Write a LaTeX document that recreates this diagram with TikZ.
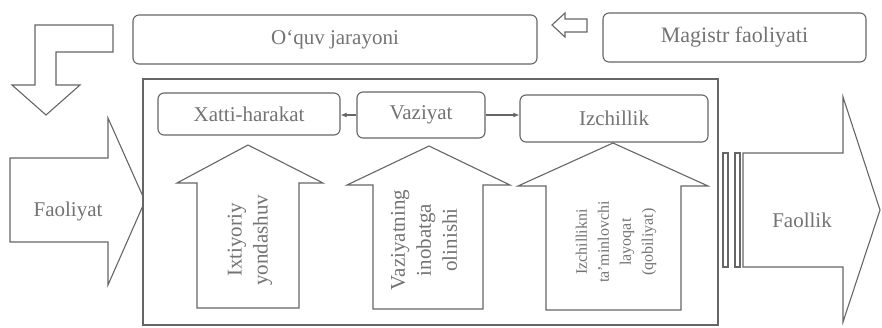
\documentclass[tikz,border=0pt]{standalone}
\usepackage{fontspec}
\setmainfont{Liberation Serif}
\usetikzlibrary{arrows.meta}
\definecolor{lineclr}{HTML}{666666}
\definecolor{txtclr}{HTML}{737373}

\begin{document}
\begin{tikzpicture}[
  x=1pt, y=-1pt,
  font=\fontsize{21}{26}\selectfont,
  box/.style={draw=lineclr, line width=1.1pt, rounded corners=6pt, text=txtclr, inner sep=0pt},
  bigarrow/.style={draw=lineclr, line width=1.1pt, fill=white, line join=miter},
  vlabel/.style={rotate=90, align=center, text=txtclr},
  arrow/.style={-{Latex[length=6pt,width=5pt]}, draw=lineclr, line width=1.1pt}
]
\useasboundingbox (0,0) rectangle (882,327);

\node[box, minimum width=404pt, minimum height=49pt] (jarayon) at (335,39.5) {O‘quv jarayoni};
\node[box, minimum width=263pt, minimum height=49pt, font=\fontsize{22}{26}\selectfont] (magistr) at (734.5,37.5) {Magistr faoliyati};
\draw[bigarrow] (552,25) -- (565,13) -- (565,19) -- (587,19) -- (587,32) -- (565,32) -- (565,37) -- cycle;
\draw[bigarrow] (35,25) -- (113,25) -- (113,52) -- (56,52) -- (56,85) -- (80,85) -- (46,115) -- (12,85) -- (35,85) -- cycle;

\draw[bigarrow] (10,158) -- (108,158) -- (108,118) -- (145,201) -- (108,285) -- (108,242) -- (10,242) -- cycle;
\node[text=txtclr] (faoliyat) at (68,211) {Faoliyat};

\node[draw=lineclr, line width=1.1pt, fill=white, minimum width=575pt, minimum height=246pt, inner sep=0pt] (frame) at (430.5,202) {};

\node[box, minimum width=182pt, minimum height=42pt] (xatti) at (249,114) {Xatti-harakat};
\node[box, minimum width=128pt, minimum height=46pt] (vaziyat) at (421,115) {Vaziyat};
\node[box, minimum width=188pt, minimum height=47pt] (izchil) at (614,118.5) {Izchillik};

\draw[arrow] (vaziyat.west) -- (xatti.east |- vaziyat.west);
\draw[arrow] (vaziyat.east) -- (izchil.west |- vaziyat.east);

\draw[bigarrow] (197,308) -- (197,183) -- (177,183) -- (248,145) -- (323,183) -- (299,183) -- (299,308) -- cycle;
\draw[bigarrow] (373,309) -- (373,185) -- (347,185) -- (429,146) -- (510,185) -- (483,185) -- (483,309) -- cycle;
\draw[bigarrow] (546,310) -- (546,186) -- (518,186) -- (613,143) -- (708,186) -- (681,186) -- (681,310) -- cycle;

\node[vlabel] (ixtiyoriy) at (250,240) {Ixtiyoriy\\yondashuv};
\node[vlabel] (inobat) at (424,240) {Vaziyatning\\inobatga\\olinishi};
\node[vlabel, font=\fontsize{16}{22}\selectfont] (layoqat) at (616,242) {Izchillikni\\ta’minlovchi\\layoqat\\(qobiliyat)};

\draw[bigarrow] (723,153) rectangle (728,267);
\draw[bigarrow] (735,153) rectangle (740,267);
\draw[bigarrow] (743,153) -- (843,153) -- (843,97) -- (880,210) -- (843,322) -- (843,267) -- (743,267) -- cycle;
\node[text=txtclr] (faollik) at (802,220) {Faollik};

\end{tikzpicture}
\end{document}
